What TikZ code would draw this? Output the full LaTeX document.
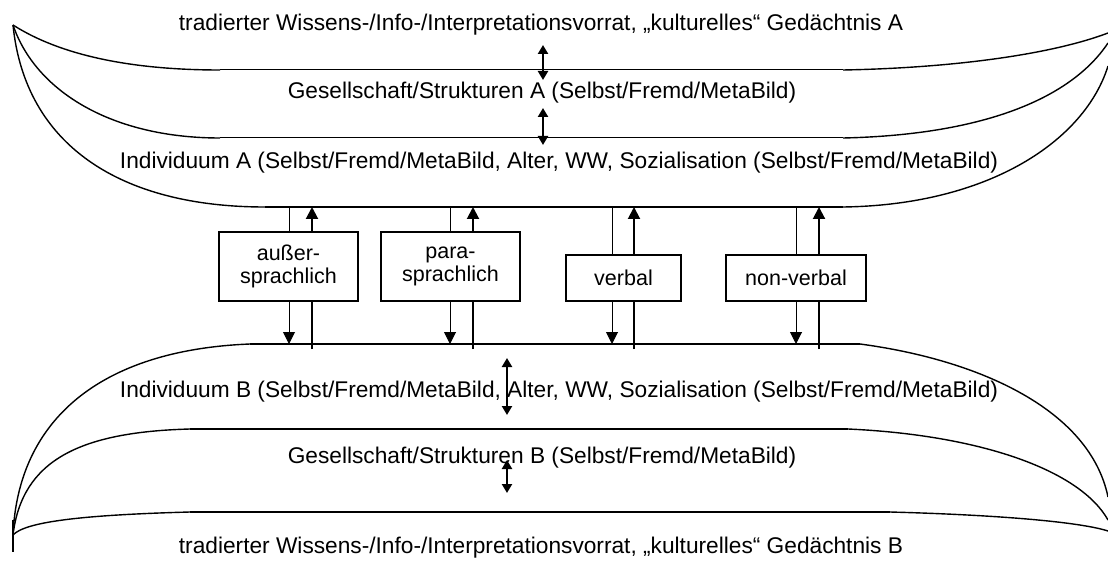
\documentclass[tikz,border=0pt]{standalone}
\usepackage{fontspec}
\setmainfont{Liberation Sans}
\usetikzlibrary{arrows.meta}
\begin{document}
\begin{tikzpicture}[x=1pt,y=-1pt,
  lbl/.style={inner sep=0pt,anchor=center,font=\fontsize{22.7}{27}\selectfont},
  boxnode/.style={draw,line width=1.2pt,inner sep=0pt,align=center,font=\fontsize{21.5}{23}\selectfont},
  thinline/.style={line width=1pt},
  thickline/.style={line width=2pt},
  curve/.style={line width=1.4pt},
  downarrow/.style={line width=1pt,-{Triangle[width=12pt,length=12pt]}},
  uparrow/.style={line width=2pt,-{Triangle[width=12pt,length=12pt]}},
  dblarrow/.style={line width=2.4pt,{Triangle[width=10pt,length=9pt]}-{Triangle[width=10pt,length=9pt]}}]
\useasboundingbox (0,0) rectangle (1108,561);
% texts
\node[lbl] (tA) at (541,25) {tradierter Wissens-/Info-/Interpretationsvorrat, „kulturelles“ Gedächtnis A};
\node[lbl] (gA) at (542,93) {Gesellschaft/Strukturen A (Selbst/Fremd/MetaBild)};
\node[lbl] (iA) at (559,163) {Individuum A (Selbst/Fremd/MetaBild, Alter, WW, Sozialisation (Selbst/Fremd/MetaBild)};
\node[lbl] (iB) at (559,392) {Individuum B (Selbst/Fremd/MetaBild, Alter, WW, Sozialisation (Selbst/Fremd/MetaBild)};
\node[lbl] (gB) at (542,458) {Gesellschaft/Strukturen B (Selbst/Fremd/MetaBild)};
\node[lbl] (tB) at (541,548) {tradierter Wissens-/Info-/Interpretationsvorrat, „kulturelles“ Gedächtnis B};
% top structure
\coordinate (LA) at (13,25);
\coordinate (RA1) at (1108,33);
\coordinate (RA2) at (1108,43);
\coordinate (RA3) at (1108,66);
\draw[thinline] (220,70) -- (843,70);
\draw[thinline] (220,138) -- (843,138);
\draw[thickline] (265,207) -- (843,207);
\draw[curve] (LA) .. controls (60,55) and (130,70) .. (220,70);
\draw[curve] (LA) .. controls (35,90) and (110,138) .. (220,138);
\draw[curve] (LA) .. controls (25,145) and (120,207) .. (265,207);
\draw[curve] (843,70) .. controls (950,68) and (1050,55) .. (RA1);
\draw[curve] (843,138) .. controls (980,135) and (1070,100) .. (RA2);
\draw[curve] (843,207) .. controls (990,205) and (1085,140) .. (RA3);
% bottom structure
\coordinate (LB) at (13,535);
\coordinate (RB1) at (1108,497);
\coordinate (RB2) at (1108,520);
\coordinate (RB3) at (1108,531);
\draw[line width=2.5pt] (250,344) -- (860,344);
\draw[thickline] (190,429) -- (848,429);
\draw[thickline] (190,512) -- (890,512);
\draw[curve] (250,344) .. controls (100,350) and (18,420) .. (LB);
\draw[curve] (190,429) .. controls (80,432) and (22,460) .. (LB);
\draw[curve] (190,512) .. controls (80,515) and (25,522) .. (LB);
\draw[curve] (13,520) -- (13,552);
\draw[curve] (860,344) .. controls (980,360) and (1090,410) .. (RB1);
\draw[curve] (848,429) .. controls (980,435) and (1080,470) .. (RB2);
\draw[curve] (890,512) .. controls (1000,515) and (1080,522) .. (RB3);
% double arrows
\coordinate (d1a) at (543,45); \coordinate (d1b) at (543,80);
\coordinate (d2a) at (543,108); \coordinate (d2b) at (543,145);
\coordinate (d3a) at (507,358); \coordinate (d3b) at (507,415);
\coordinate (d4a) at (507,460); \coordinate (d4b) at (507,493);
\draw[dblarrow] (d1a) -- (d1b);
\draw[dblarrow] (d2a) -- (d2b);
\draw[dblarrow] (d3a) -- (d3b);
\draw[dblarrow] (d4a) -- (d4b);
% boxes
\node[boxnode,minimum width=139pt,minimum height=69pt] (b1) at (288.5,266.5) {außer-\\sprachlich};
\node[boxnode,line width=1.8pt,minimum width=139pt,minimum height=69pt] (b2) at (450.5,266.5) {para-\\sprachlich};
\node[boxnode,minimum width=115pt,minimum height=46pt] (b3) at (623.5,278) {verbal};
\node[boxnode,line width=1.5pt,minimum width=140pt,minimum height=46pt] (b4) at (796,278) {non-verbal};
% channel arrows
\foreach \i/\xd/\xu in {1/289/312, 2/450/473, 3/612/634, 4/796/819}{
  \coordinate (dt\i) at (\xd,207);
  \coordinate (db\i) at (\xd,344);
  \coordinate (ut\i) at (\xu,207);
  \coordinate (ub\i) at (\xu,349);
  \draw[thinline] (dt\i) -- (dt\i |- b\i.north);
  \draw[downarrow] (dt\i |- b\i.south) -- (db\i);
  \draw[thickline] (ub\i) -- (ub\i |- b\i.south);
  \draw[uparrow] (ub\i |- b\i.north) -- (ut\i);
}
\end{tikzpicture}
\end{document}
